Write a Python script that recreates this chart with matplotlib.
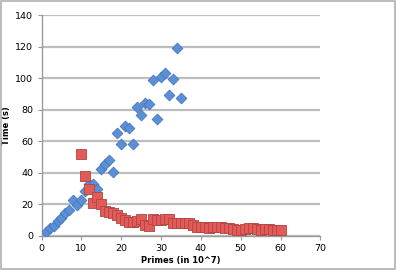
import numpy as np
import matplotlib
matplotlib.use('Agg')
import matplotlib.pyplot as plt
from matplotlib.patches import Rectangle

# blue diamonds: x = 1..35
blue_x = list(range(1, 36))
blue_y = [2.3, 4.9, 6.5, 9.5, 11.6, 14.8, 16.5, 22.6, 19.6, 22.6,
          28.5, 32.7, 33.0, 29.8, 42.6, 45.6, 48.0, 40.5, 65.0, 58.5,
          70.0, 68.6, 58.5, 81.9, 76.6, 84.4, 83.4, 98.8, 73.9, 100.7,
          103.4, 89.5, 99.6, 119.3, 87.4]

# red squares: x = 10..60
red_x = list(range(10, 61))
red_y = [52.0, 38.0, 29.8, 20.7, 24.7, 20.5, 15.8, 15.5, 14.8, 13.3,
         11.7, 10.2, 9.0, 9.0, 9.7, 10.8, 7.0, 6.5, 10.5, 10.0,
         10.0, 11.0, 10.7, 8.0, 8.5, 8.5, 8.0, 8.0, 7.0, 6.0,
         6.0, 5.5, 5.0, 5.5, 6.0, 5.5, 5.0, 5.0, 4.5, 4.0,
         4.0, 4.5, 5.0, 5.0, 4.5, 3.5, 4.5, 4.5, 4.0, 4.0, 3.5]

fig = plt.figure(figsize=(3.96, 2.7), dpi=100)
fig.patches.append(Rectangle((0.002, 0.003), 0.995, 0.994, transform=fig.transFigure,
                             fill=False, edgecolor='#b0b0b0', linewidth=1.2))
ax = fig.add_axes([0.105, 0.126, 0.704, 0.818])

ax.scatter(blue_x, blue_y, marker='D', s=30, color='#5b8fd6',
           edgecolors='#4676bd', linewidths=0.6, zorder=3)
ax.scatter(red_x, red_y, marker='s', s=42, color='#e25b58',
           edgecolors='#b04542', linewidths=0.6, zorder=4)

ax.set_xlim(0, 70)
ax.set_ylim(0, 140)
ax.set_xticks(range(0, 71, 10))
ax.set_yticks(range(0, 141, 20))
ax.grid(True, axis='y', color='#bdbdbd', linewidth=1.6)
ax.set_axisbelow(True)
for s in ('top', 'right'):
    ax.spines[s].set_visible(False)
for s in ('left', 'bottom'):
    ax.spines[s].set_color('#9a9a9a')
    ax.spines[s].set_linewidth(1.0)
ax.tick_params(axis='both', labelsize=6.8, length=3, color='#9a9a9a', pad=3)

ax.set_xlabel('Primes (in 10^7)', fontsize=6, fontweight='bold', labelpad=2)
ax.set_ylabel('Time (s)', fontsize=6, fontweight='bold', labelpad=3)

fig.savefig('out.png', dpi=100)
